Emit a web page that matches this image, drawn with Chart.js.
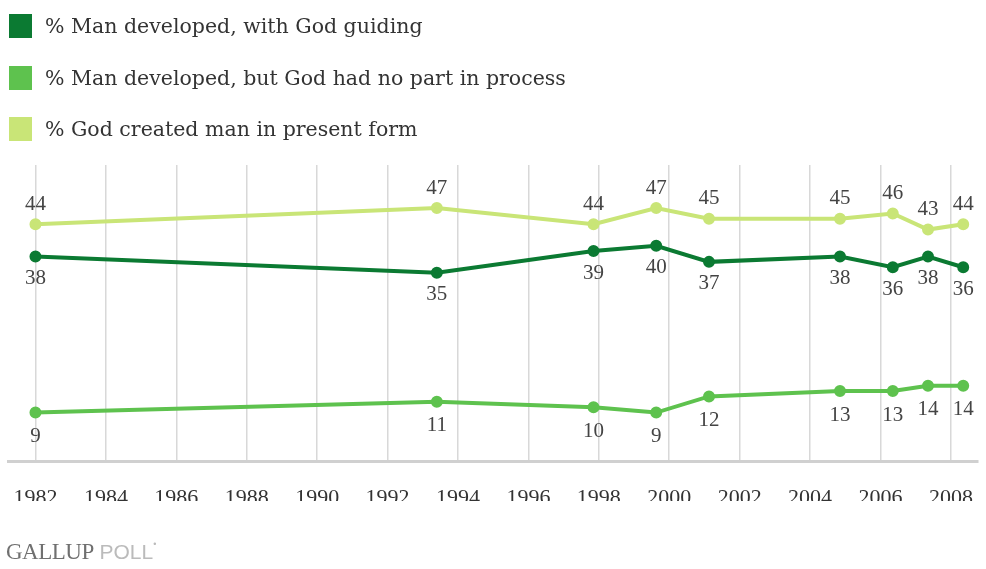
<!DOCTYPE html>
<html>
<head>
<meta charset="utf-8">
<script src="https://cdn.jsdelivr.net/npm/chart.js@4/dist/chart.umd.min.js"></script>
<style>
  body { margin: 0; background: #fff; width: 986px; height: 569px; overflow: hidden; position: relative; }
  #wrap { position: absolute; left: 0; top: 0; width: 986px; height: 569px; }
  #legend { position: absolute; left: 9px; top: 14px; font-family: "DejaVu Serif", serif; font-size: 20.5px; color: #333; }
  .row { height: 51.5px; display: flex; align-items: flex-start; }
  .box { width: 23px; height: 24px; margin-right: 13px; }
  .txt { line-height: 24px; }
  #footer { position: absolute; left: 6px; top: 539px; font-size: 23px; }
  #footer .g { font-family: "Liberation Serif", serif; color: #707070; letter-spacing: -0.5px; }
  #footer .p { font-family: "Liberation Sans", sans-serif; color: #bbb; font-size: 21px; }
</style>
</head>
<body>
<div id="wrap"><canvas id="chart" width="986" height="569"></canvas></div>
<div id="legend"></div>
<div id="footer"><span class="g">GALLUP</span> <span class="p">POLL</span><span class="p" style="font-size:9px;vertical-align:top">&#8226;</span></div>
<script>
// survey dates (decimal years) and results
let surveyDates = [1982.0, 1993.4, 1997.85, 1999.63, 2001.13, 2004.85, 2006.35, 2007.35, 2008.35];
let godGuiding = [38, 35, 39, 40, 37, 38, 36, 38, 36];
let noGod = [9, 11, 10, 9, 12, 13, 13, 14, 14];
let createdPresent = [44, 47, 44, 47, 45, 45, 46, 43, 44];
let tickYears = [1982, 1984, 1986, 1988, 1990, 1992, 1994, 1996, 1998, 2000, 2002, 2004, 2006, 2008];

let seriesNames = ["% Man developed, with God guiding", "% Man developed, but God had no part in process", "% God created man in present form"];
let seriesColors = ["#0b7a32", "#5ec24e", "#c9e577"];
let seriesValues = [godGuiding, noGod, createdPresent];
let labelOffsets = [22, 24, -20];

let legend = document.getElementById("legend");
seriesNames.forEach(function(name, i) {
    let row = document.createElement("div");
    row.className = "row";
    row.innerHTML = `<div class="box" style="background:${seriesColors[i]}"></div><div class="txt">${name}</div>`;
    legend.appendChild(row);
});

let datasets = seriesValues.map(function(vals, i) {
    return {
        label: seriesNames[i],
        data: vals.map((v, j) => ({x: surveyDates[j], y: v})),
        borderColor: seriesColors[i],
        backgroundColor: seriesColors[i],
        borderWidth: 4,
        pointRadius: 4,
        pointHoverRadius: 4,
        tension: 0,
        labelOffset: labelOffsets[i]
    };
});

const valueLabels = {
    id: "valueLabels",
    afterDatasetsDraw(chart) {
        let ctx = chart.ctx;
        ctx.save();
        ctx.font = "21px 'Liberation Serif', serif";
        ctx.fillStyle = "#444";
        ctx.textAlign = "center";
        ctx.textBaseline = "middle";
        chart.data.datasets.forEach((ds, i) => {
            chart.getDatasetMeta(i).data.forEach((pt, j) => {
                ctx.fillText(String(ds.data[j].y), pt.x, pt.y + ds.labelOffset);
            });
        });
        ctx.restore();
    }
};

new Chart(document.getElementById("chart").getContext("2d"), {
    type: "line",
    data: { datasets: datasets },
    plugins: [valueLabels],
    options: {
        responsive: false,
        animation: false,
        layout: { padding: { left: 8, right: 1, top: 165, bottom: 68 } },
        plugins: { legend: { display: false }, tooltip: { enabled: false } },
        scales: {
            x: {
                type: "linear",
                min: 1981.22,
                max: 2008.77,
                afterBuildTicks: (scale) => { scale.ticks = tickYears.map(v => ({value: v})); },
                afterFit: (scale) => {
                    scale.height = 40;
                    scale.paddingLeft = 0;
                    scale.paddingRight = 0;
                },
                grid: { color: "#d8d8d8", lineWidth: 1.5, drawTicks: false },
                border: { display: true, color: "#d0d0d0", width: 3 },
                ticks: {
                    padding: 24,
                    color: "#333",
                    font: { family: "'Liberation Serif', serif", size: 22 },
                    callback: (v) => String(v),
                    maxRotation: 0,
                    autoSkip: false
                }
            },
            y: {
                display: false,
                min: 0,
                max: 55
            }
        }
    }
});
</script>
</body>
</html>
